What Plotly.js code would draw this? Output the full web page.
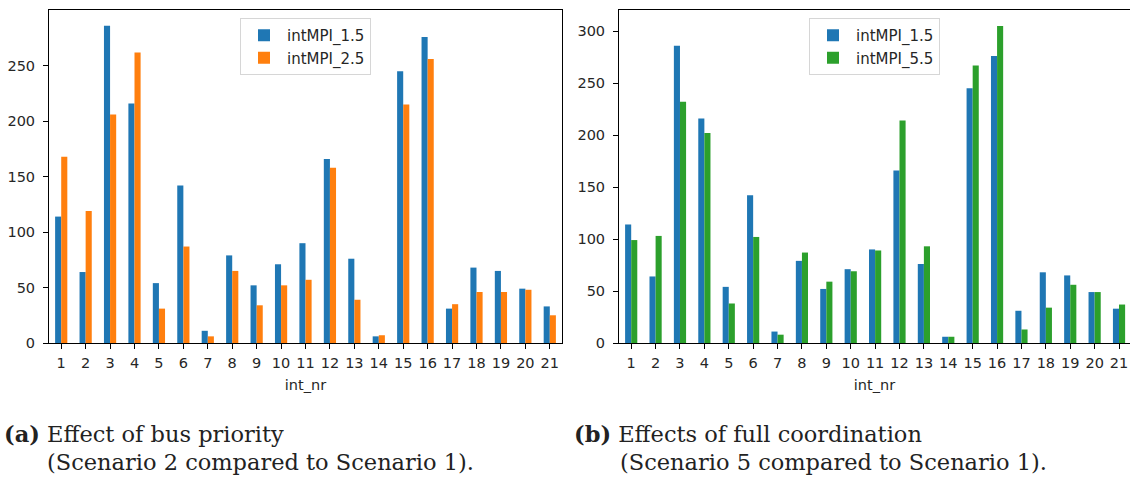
<!DOCTYPE html>
<html>
<head>
<meta charset="utf-8">
<script src="https://cdn.plot.ly/plotly-3.0.1.min.js"></script>
<style>html,body{margin:0;padding:0;background:#fff;}#chart{width:1130px;height:479px;}</style>
</head>
<body>
<div id="chart"></div>
<script>
const categories = ["1","2","3","4","5","6","7","8","9","10","11","12","13","14","15","16","17","18","19","20","21"];
const intMPI_1_5 = [114,64,286,216,54,142,11,79,52,71,90,166,76,6,245,276,31,68,65,49,33];
const intMPI_2_5 = [168,119,206,262,31,87,6,65,34,52,57,158,39,7,215,256,35,46,46,48,25];
const intMPI_5_5 = [99,103,232,202,38,102,8,87,59,69,89,214,93,6,267,305,13,34,56,49,37];
const seriesNames = ["intMPI_1.5","intMPI_2.5","intMPI_5.5"];
const xLabel = "int_nr";
const captionA = ["<b>(a)</b> Effect of bus priority", "(Scenario 2 compared to Scenario 1)."];
const captionB = ["<b>(b)</b> Effects of full coordination", "(Scenario 5 compared to Scenario 1)."];

const BLUE = "#1f77b4", ORANGE = "#ff7f0e", GREEN = "#2ca02c";
const W = 1130, H = 479;
const px = v => v / W;
const py = v => 1 - v / H;

const traces = [
  {type:"bar", x:categories, y:intMPI_1_5, name:seriesNames[0], marker:{color:BLUE}, xaxis:"x", yaxis:"y", legend:"legend"},
  {type:"bar", x:categories, y:intMPI_2_5, name:seriesNames[1], marker:{color:ORANGE}, xaxis:"x", yaxis:"y", legend:"legend"},
  {type:"bar", x:categories, y:intMPI_1_5, name:seriesNames[0], marker:{color:BLUE}, xaxis:"x2", yaxis:"y2", legend:"legend2"},
  {type:"bar", x:categories, y:intMPI_5_5, name:seriesNames[2], marker:{color:GREEN}, xaxis:"x2", yaxis:"y2", legend:"legend2"}
];

const tickFont = {family:"DejaVu Sans", size:14.5, color:"#262626"};
const legFont = {family:"DejaVu Sans", size:15, color:"#262626"};
const axCommon = {showgrid:false, zeroline:false, showline:true, linecolor:"#000", linewidth:1,
  ticks:"outside", ticklen:5, tickcolor:"#000", tickwidth:1, tickfont:tickFont, fixedrange:true};
const xCommon = Object.assign({}, axCommon, {type:"category", tickangle:0, ticklabelstandoff:2,
  title:{text:xLabel, font:tickFont, standoff:9}});
const yCommon = Object.assign({}, axCommon, {ticklabelstandoff:5});

const capFont = {family:"DejaVu Serif", size:22.5, color:"#222"};
function cap(text, x, y){
  return {text:text, xref:"paper", yref:"paper", x:px(x), y:py(y), xanchor:"left", yanchor:"middle",
    showarrow:false, font:capFont, align:"left"};
}
function leg(x){
  return {x:px(x), y:py(18), xanchor:"left", yanchor:"top", bordercolor:"#d6d6d6", borderwidth:1,
    bgcolor:"rgba(255,255,255,0.8)", font:legFont, itemwidth:36, tracegroupgap:0};
}

const layout = {
  width:W, height:H, margin:{l:0,r:0,t:0,b:0}, paper_bgcolor:"#fff", plot_bgcolor:"#fff",
  barmode:"group", bargap:0.5, bargroupgap:0, showlegend:true,
  xaxis:Object.assign({}, xCommon, {domain:[px(49), px(562)], range:[-0.5,20.5], mirror:true, anchor:"y"}),
  yaxis:Object.assign({}, yCommon, {domain:[py(343), py(10)], range:[0,300.3], mirror:true, anchor:"x",
    tickvals:[0,50,100,150,200,250]}),
  xaxis2:Object.assign({}, xCommon, {domain:[px(619), 1], range:[-0.5,20.45], mirror:true, anchor:"y2"}),
  yaxis2:Object.assign({}, yCommon, {domain:[py(343), py(10)], range:[0,320.3], mirror:false, anchor:"x2",
    tickvals:[0,50,100,150,200,250,300]}),
  legend:leg(240),
  legend2:leg(809),
  annotations:[
    cap(captionA[0], 2, 434), cap(captionA[1], 45, 462),
    cap(captionB[0], 572, 434), cap(captionB[1], 618, 462)
  ]
};

Plotly.newPlot("chart", traces, layout, {displayModeBar:false, staticPlot:true});
</script>
</body>
</html>
